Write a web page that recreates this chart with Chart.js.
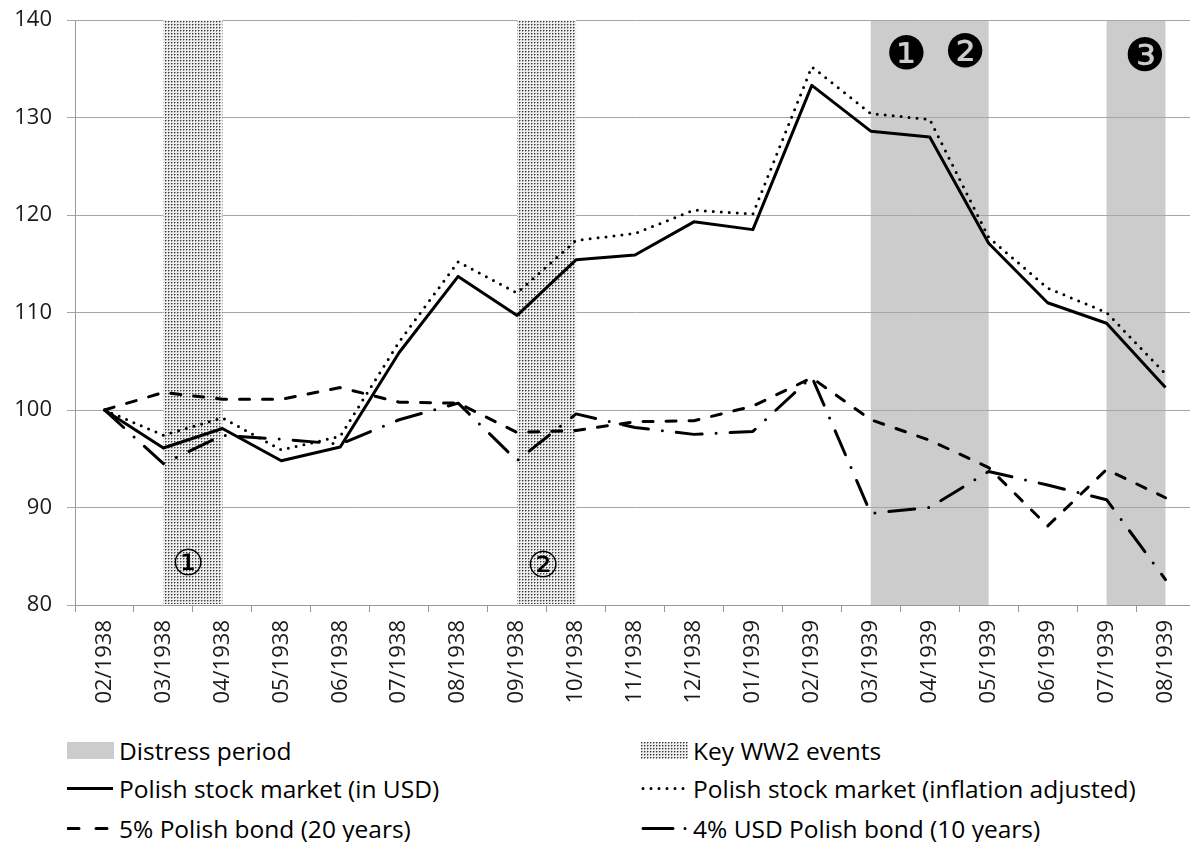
<!DOCTYPE html>
<html lang="en">
<head>
    <meta charset="UTF-8">
    <title>Polish markets 1938-1939</title>
    <script src="https://cdn.jsdelivr.net/npm/chart.js"></script>
    <style>
        html, body {
            margin: 0;
            padding: 0;
            background: #fff;
            overflow: hidden;
        }
        .wrap {
            position: relative;
            width: 1200px;
            height: 842px;
        }
        #legend {
            position: absolute;
            left: 0;
            top: 0;
            font-family: 'Open Sans', sans-serif;
            font-size: 24.5px;
            color: #000;
        }
        .item {
            position: absolute;
            display: flex;
            align-items: center;
            height: 30px;
            white-space: nowrap;
        }
        .item svg, .item .box {
            width: 47px;
            height: 17px;
            margin-right: 5px;
            flex: none;
        }
        .box.distress { background: #cccccc; }
    </style>
</head>
<body>

<div class="wrap">
    <canvas id="chart" width="1200" height="720"></canvas>
    <div id="legend">
        <div class="item" style="left:67px; top:735px;">
            <div class="box distress"></div><span>Distress period</span>
        </div>
        <div class="item" style="left:641px; top:735px;">
            <div class="box" id="hatchBox"></div><span>Key WW2 events</span>
        </div>
        <div class="item" style="left:67px; top:773px;">
            <svg viewBox="0 0 47 17"><line x1="0" y1="8.5" x2="46" y2="8.5" stroke="#000" stroke-width="3"/></svg>
            <span>Polish stock market (in USD)</span>
        </div>
        <div class="item" style="left:641px; top:773px;">
            <svg viewBox="0 0 47 17"><line x1="2" y1="8.5" x2="46" y2="8.5" stroke="#000" stroke-width="3" stroke-linecap="round" stroke-dasharray="0 8"/></svg>
            <span>Polish stock market (inflation adjusted)</span>
        </div>
        <div class="item" style="left:67px; top:813px;">
            <svg viewBox="0 0 47 17"><line x1="1" y1="8.5" x2="46" y2="8.5" stroke="#000" stroke-width="3" stroke-linecap="round" stroke-dasharray="11 17"/></svg>
            <span>5% Polish bond (20 years)</span>
        </div>
        <div class="item" style="left:641px; top:813px;">
            <svg viewBox="0 0 47 17"><line x1="2" y1="8.5" x2="46" y2="8.5" stroke="#000" stroke-width="3" stroke-linecap="round" stroke-dasharray="30 12 0 40"/></svg>
            <span>4% USD Polish bond (10 years)</span>
        </div>
    </div>
</div>

<script>
    const months = ['02/1938', '03/1938', '04/1938', '05/1938', '06/1938', '07/1938', '08/1938',
        '09/1938', '10/1938', '11/1938', '12/1938', '01/1939', '02/1939', '03/1939', '04/1939',
        '05/1939', '06/1939', '07/1939', '08/1939'];

    const stockUsd  = [100, 96.1, 98.1, 94.8, 96.2, 105.9, 113.7, 109.7, 115.4, 115.9, 119.3, 118.5, 133.3, 128.6, 128.0, 117.1, 111.0, 108.9, 102.3];
    const stockReal = [100, 97.4, 99.2, 95.9, 97.3, 107.0, 115.2, 112.0, 117.4, 118.1, 120.5, 120.1, 135.2, 130.4, 129.8, 117.7, 112.5, 110.0, 103.7];
    const bond5     = [100, 101.8, 101.1, 101.1, 102.3, 100.8, 100.7, 97.7, 97.9, 98.8, 98.9, 100.4, 103.3, 99.0, 96.9, 94.1, 88.1, 93.9, 91.0];
    const bond4usd  = [100, 94.5, 97.4, 97.0, 96.5, 99.0, 100.7, 94.8, 99.6, 98.2, 97.5, 97.8, 103.4, 89.4, 90.0, 93.7, 92.3, 90.8, 82.6];

    const yTicks = [80, 90, 100, 110, 120, 130, 140];

    // shaded periods, from one month to another
    const distressPeriods = [['03/1939', '05/1939'], ['07/1939', '08/1939']];
    const ww2Events = [['03/1938', '04/1938'], ['09/1938', '10/1938']];

    // numbered markers: month index (fractional) and value
    const markers = [
        { text: '\u2460', at: 1.42, v: 84.0, dark: false },
        { text: '\u2461', at: 7.44, v: 83.8, dark: false },
        { text: '\u2776', at: 13.6, v: 136.2, dark: true },
        { text: '\u2777', at: 14.6, v: 136.4, dark: true },
        { text: '\u2778', at: 17.65, v: 136.0, dark: true }
    ];

    function makeHatch() {
        const c = document.createElement('canvas');
        c.width = 3; c.height = 3;
        const g = c.getContext('2d');
        g.fillStyle = '#eeeeee'; g.fillRect(0, 0, 3, 3);
        g.fillStyle = '#9a9a9a'; g.fillRect(1, 0, 1, 1); g.fillRect(0, 1, 1, 1);
        g.fillStyle = '#3a3a3a'; g.fillRect(0, 0, 1, 1);
        return c;
    }
    const hatchTile = makeHatch();
    document.getElementById('hatchBox').style.background = 'url(' + hatchTile.toDataURL() + ')';

    function bandRect(chart, from, to) {
        const x = chart.scales.x;
        const a = x.getPixelForValue(months.indexOf(from));
        const b = x.getPixelForValue(months.indexOf(to));
        return [a, b];
    }

    const bandsPlugin = {
        id: 'bands',
        beforeDraw(chart) {
            const { ctx, chartArea } = chart;
            ctx.save();
            ctx.fillStyle = '#cccccc';
            distressPeriods.forEach(p => {
                const [a, b] = bandRect(chart, p[0], p[1]);
                ctx.fillRect(a, chartArea.top, b - a, chartArea.bottom - chartArea.top);
            });
            ctx.restore();
        },
        beforeDatasetsDraw(chart) {
            const { ctx, chartArea } = chart;
            ctx.save();
            ctx.fillStyle = ctx.createPattern(hatchTile, 'repeat');
            ww2Events.forEach(p => {
                const [a, b] = bandRect(chart, p[0], p[1]);
                ctx.fillRect(a, chartArea.top, b - a, chartArea.bottom - chartArea.top - 1);
            });
            ctx.textAlign = 'center';
            ctx.textBaseline = 'middle';
            ctx.fillStyle = '#000';
            markers.forEach(m => {
                const x0 = chart.scales.x.getPixelForValue(Math.floor(m.at));
                const x1 = chart.scales.x.getPixelForValue(Math.floor(m.at) + 1);
                const px = x0 + (x1 - x0) * (m.at - Math.floor(m.at));
                const py = chart.scales.y.getPixelForValue(m.v);
                ctx.font = m.dark ? '46px "DejaVu Sans"' : '36px "DejaVu Sans"';
                ctx.fillText(m.text, px, py);
            });
            ctx.restore();
        }
    };

    function serie(label, data, dash) {
        return {
            label: label,
            data: data,
            borderColor: '#000',
            borderWidth: 3,
            borderDash: dash,
            borderCapStyle: dash.length ? 'round' : 'butt',
            borderJoinStyle: 'round',
            pointRadius: 0,
            tension: 0,
            fill: false
        };
    }

    Chart.defaults.font.family = "'Open Sans', sans-serif";
    Chart.defaults.color = '#1a1a1a';

    new Chart(document.getElementById('chart'), {
        type: 'line',
        data: {
            labels: months,
            datasets: [
                serie('4% USD Polish bond (10 years)', bond4usd, [26, 14, 0, 14]),
                serie('5% Polish bond (20 years)', bond5, [10, 13]),
                serie('Polish stock market (inflation adjusted)', stockReal, [0, 8]),
                serie('Polish stock market (in USD)', stockUsd, [])
            ]
        },
        options: {
            responsive: false,
            animation: false,
            layout: { padding: { top: 20, right: 4, left: 0, bottom: 0 } },
            plugins: {
                legend: { display: false },
                tooltip: { enabled: false }
            },
            scales: {
                x: {
                    offset: true,
                    grid: { offset: true, drawOnChartArea: false, color: '#999', tickLength: 7 },
                    border: { color: '#999' },
                    ticks: { autoSkip: false, minRotation: 90, maxRotation: 90, padding: 8, font: { size: 22 }, color: '#1a1a1a' },
                    afterFit(scale) { scale.height = 115; }
                },
                y: {
                    min: 80,
                    max: 140,
                    afterBuildTicks(scale) { scale.ticks = yTicks.map(v => ({ value: v })); },
                    grid: { color: '#a6a6a6', tickLength: 8 },
                    border: { color: '#999' },
                    ticks: { padding: 15, font: { size: 22 }, color: '#1a1a1a' },
                    afterFit(scale) {
                        scale.width = 75;
                        scale.paddingTop = 0;
                        scale.paddingBottom = 0;
                    }
                }
            }
        },
        plugins: [bandsPlugin]
    });
</script>

</body>
</html>
